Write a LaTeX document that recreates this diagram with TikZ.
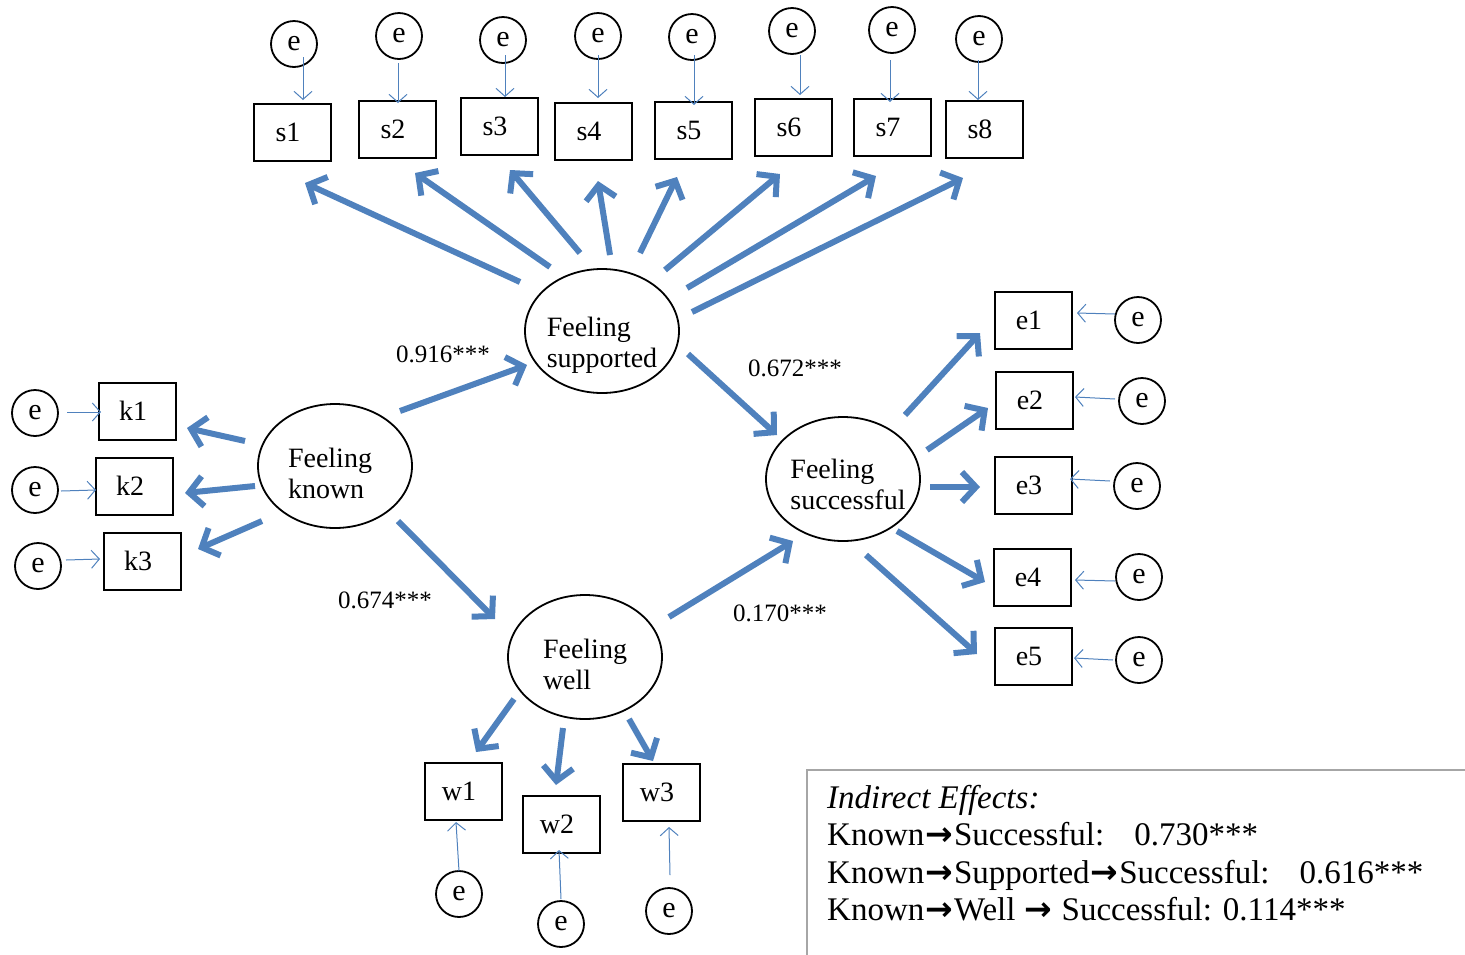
\documentclass[tikz,border=0pt]{standalone}
\usepackage{fontspec}
\setmainfont{Liberation Serif}
\newfontfamily\arrowfont{DejaVu Sans}
\usetikzlibrary{arrows.meta,shapes.geometric,calc}
\definecolor{pathblue}{RGB}{79,129,189}
\definecolor{framegray}{RGB}{166,166,166}
\newcommand{\effarrow}{\kern1pt{\arrowfont\bfseries →}\kern1pt}

\begin{document}
\begin{tikzpicture}[x=1pt,y=-1pt,
  latent/.style={ellipse,draw,line width=1.8pt,minimum width=154pt,minimum height=124pt,
    inner sep=0pt},
  lattext/.style={inner sep=0pt,align=left,font=\fontsize{28}{31}\selectfont},
  observed/.style={rectangle,draw,line width=2pt,minimum width=77pt,minimum height=57pt,
    inner sep=0pt,font=\fontsize{28}{31}\selectfont,
    execute at begin node={\hspace*{-8pt}}},
  errnode/.style={circle,draw,line width=1.8pt,minimum size=46pt,inner sep=0pt,
    font=\fontsize{30}{31}\selectfont},
  loading/.style={draw=pathblue,line width=6pt,-{Straight Barb[length=14pt,width=30pt]}},
  errpath/.style={draw=pathblue,line width=1pt,-{Straight Barb[length=8pt,width=18pt]}},
  coef/.style={font=\fontsize{25}{28}\selectfont,inner sep=0pt},
]
\useasboundingbox (0,0) rectangle (1465,954);

% latent factors, with their names set a little below centre
\node[latent] (sup)  at (602,331) {};
\node[latent] (known) at (335,466) {};
\node[latent] (succ) at (843,479) {};
\node[latent] (well) at (585,657) {};
\node[lattext] (supname)   at ($(sup)+(0,14)$)   {Feeling\\supported};
\node[lattext] (knownname) at ($(known)+(-5,7)$) {Feeling\\known};
\node[lattext] (succname)  at ($(succ)+(5,5)$)   {Feeling\\successful};
\node[lattext] (wellname)  at ($(well)+(0,7)$)   {Feeling\\well};

% supported indicators and their errors
\node[observed] (s1) at (292,132) {s1};
\node[observed] (s2) at (397,129) {s2};
\node[observed] (s3) at (499,126) {s3};
\node[observed] (s4) at (593,131) {s4};
\node[observed] (s5) at (693,130) {s5};
\node[observed] (s6) at (793,127) {s6};
\node[observed] (s7) at (892,127) {s7};
\node[observed] (s8) at (984,129) {s8};
\node[errnode] (es1) at (294,44) {e};
\node[errnode] (es2) at (399,36) {e};
\node[errnode] (es3) at (503,40) {e};
\node[errnode] (es4) at (598,36) {e};
\node[errnode] (es5) at (692,37) {e};
\node[errnode] (es6) at (792,31) {e};
\node[errnode] (es7) at (892,30) {e};
\node[errnode] (es8) at (979,39) {e};

% known indicators
\node[observed] (k1) at (137,411) {k1};
\node[observed] (k2) at (134,486) {k2};
\node[observed] (k3) at (142,561) {k3};
\node[errnode] (ek1) at (35,413) {e};
\node[errnode] (ek2) at (35,490) {e};
\node[errnode] (ek3) at (38,566) {e};

% successful indicators
\node[observed] (e1) at (1033,320) {e1};
\node[observed] (e2) at (1034,400) {e2};
\node[observed] (e3) at (1033,485) {e3};
\node[observed] (e4) at (1032,577) {e4};
\node[observed] (e5) at (1033,656) {e5};
\node[errnode] (ee1) at (1138,320) {e};
\node[errnode] (ee2) at (1142,401) {e};
\node[errnode] (ee3) at (1137,486) {e};
\node[errnode] (ee4) at (1139,577) {e};
\node[errnode] (ee5) at (1139,660) {e};

% well indicators
\node[observed] (w1) at (463,791) {w1};
\node[observed] (w2) at (561,824) {w2};
\node[observed] (w3) at (661,792) {w3};
\node[errnode] (ew1) at (459,894) {e};
\node[errnode] (ew2) at (561,924) {e};
\node[errnode] (ew3) at (669,911) {e};

% loadings of supported
\draw[loading] ($(sup)+(-82,-49)$) -- ($(s1)+(13,51)$);
\draw[loading] ($(sup)+(-52,-64)$) -- ($(s2)+(18,44)$);
\draw[loading] ($(sup)+(-22,-78)$) -- ($(s3)+(11,44)$);
\draw[loading] ($(sup)+(8,-76)$)   -- ($(s4)+(5,50)$);
\draw[loading] ($(sup)+(38,-78)$)  -- ($(s5)+(-16,47)$);
\draw[loading] ($(sup)+(63,-61)$)  -- ($(s6)+(-13,47)$);
\draw[loading] ($(sup)+(85,-43)$)  -- ($(s7)+(-16,49)$);
\draw[loading] ($(sup)+(90,-19)$)  -- ($(s8)+(-21,49)$);

% structural paths
\draw[loading] ($(known)+(65,-55)$) -- ($(sup)+(-75,34)$);
\draw[loading] ($(sup)+(86,23)$)    -- ($(succ)+(-66,-44)$);
\draw[loading] ($(known)+(63,55)$)  -- ($(well)+(-90,-38)$);
\draw[loading] ($(well)+(84,-40)$)  -- ($(succ)+(-50,62)$);

% loadings of known
\draw[loading] ($(known)+(-90,-25)$) -- ($(k1)+(50,17)$);
\draw[loading] ($(known)+(-80,20)$)  -- ($(k2)+(51,7)$);
\draw[loading] ($(known)+(-73,55)$)  -- ($(k3)+(56,-12)$);

% loadings of successful
\draw[loading] ($(succ)+(62,-64)$) -- ($(e1)+(-53,13)$);
\draw[loading] ($(succ)+(84,-29)$) -- ($(e2)+(-46,8)$);
\draw[loading] ($(succ)+(87,8)$)   -- ($(e3)+(-53,2)$);
\draw[loading] ($(succ)+(54,52)$)  -- ($(e4)+(-47,5)$);
\draw[loading] ($(succ)+(23,76)$)  -- ($(e5)+(-56,-2)$);

% loadings of well
\draw[loading] ($(well)+(-71,42)$) -- ($(w1)+(13,-39)$);
\draw[loading] ($(well)+(-22,71)$) -- ($(w2)+(-5,-39)$);
\draw[loading] ($(well)+(44,62)$)  -- ($(w3)+(-8,-31)$);

% error terms
\draw[errpath] ($(es1)+(9,13)$)  -- ($(s1)+(11,-32)$);
\draw[errpath] ($(es2)+(-1,27)$) -- ($(s2)+(1,-26)$);
\draw[errpath] ($(es3)+(2,15)$)  -- ($(s3)+(6,-29)$);
\draw[errpath] ($(es4)+(0,19)$)  -- ($(s4)+(5,-33)$);
\draw[errpath] ($(es5)+(2,18)$)  -- ($(s5)+(1,-25)$);
\draw[errpath] ($(es6)+(8,24)$)  -- ($(s6)+(7,-32)$);
\draw[errpath] ($(es7)+(-2,30)$) -- ($(s7)+(-2,-25)$);
\draw[errpath] ($(es8)+(-1,21)$) -- ($(s8)+(-6,-29)$);

\draw[errpath] ($(ek1)+(32,-1)$) -- ($(k1)+(-36,1)$);
\draw[errpath] ($(ek2)+(26,1)$)  -- ($(k2)+(-38,4)$);
\draw[errpath] ($(ek3)+(28,-6)$) -- ($(k3)+(-42,-2)$);

\draw[errpath] ($(ee1)+(-23,-6)$) -- ($(e1)+(44,-7)$);
\draw[errpath] ($(ee2)+(-27,-2)$) -- ($(e2)+(41,-3)$);
\draw[errpath] ($(ee3)+(-27,-5)$) -- ($(e3)+(37,-6)$);
\draw[errpath] ($(ee4)+(-24,4)$)  -- ($(e4)+(43,3)$);
\draw[errpath] ($(ee5)+(-26,0)$)  -- ($(e5)+(41,2)$);

\draw[errpath] ($(ew1)+(0,-23)$) -- ($(w1)+(-7,31)$);
\draw[errpath] ($(ew2)+(0,-25)$) -- ($(w2)+(-2,26)$);
\draw[errpath] ($(ew3)+(1,-36)$) -- ($(w3)+(8,35)$);

% path coefficients
\node[coef] (c1) at (443,354) {0.916***};
\node[coef] (c2) at (795,368) {0.672***};
\node[coef] (c3) at (385,600) {0.674***};
\node[coef] (c4) at (780,613) {0.170***};

% indirect effects panel
\draw[framegray,line width=2pt] (807,960) -- (807,770) -- (1470,770);
\node[anchor=north west,align=left,inner sep=0pt,
      font=\fontsize{33}{37.5}\selectfont] (ind) at (827,785)
  {\textit{Indirect Effects:}\\
   Known\effarrow Successful:\hspace{30pt}0.730***\\
   Known\effarrow Supported\effarrow Successful:\hspace{30pt}0.616***\\
   Known\effarrow Well \effarrow{} Successful: 0.114***};
\end{tikzpicture}
\end{document}
